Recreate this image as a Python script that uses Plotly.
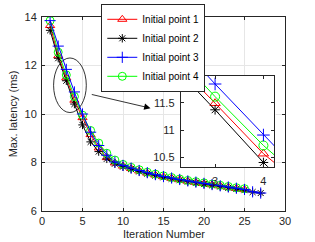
import plotly.graph_objects as go

# ---- data ----
x_red = list(range(1, 26))
y_red = [13.65, 12.40, 11.49, 10.57, 9.85, 9.15, 8.60, 8.20, 7.98, 7.85, 7.75, 7.65, 7.56,
         7.48, 7.41, 7.35, 7.29, 7.23, 7.18, 7.13, 7.08, 7.03, 6.98, 6.93, 6.88]
x_black = list(range(1, 28))
y_black = [13.45, 12.30, 11.37, 10.41, 9.55, 8.85, 8.45, 8.15, 7.95, 7.83, 7.73, 7.63, 7.54,
           7.46, 7.39, 7.33, 7.27, 7.21, 7.16, 7.11, 7.06, 7.01, 6.96, 6.91, 6.86, 6.78, 6.74]
x_blue = list(range(1, 28))
y_blue = [13.85, 12.80, 11.84, 10.91, 10.00, 9.25, 8.70, 8.30, 8.02, 7.88, 7.77, 7.67, 7.58,
          7.50, 7.42, 7.36, 7.30, 7.24, 7.19, 7.14, 7.09, 7.04, 6.99, 6.94, 6.89, 6.79, 6.74]
x_green = list(range(1, 26))
y_green = [13.85, 12.55, 11.61, 10.72, 9.95, 9.32, 8.80, 8.38, 8.10, 7.92, 7.80, 7.70, 7.60,
           7.52, 7.45, 7.38, 7.32, 7.26, 7.21, 7.16, 7.11, 7.06, 7.01, 6.96, 6.92]
names = ["Initial point 1", "Initial point 2", "Initial point 3", "Initial point 4"]
x_ticks = [0, 5, 10, 15, 20, 25, 30]
y_ticks = [6, 8, 10, 12, 14]
inset_x_ticks = [3, 4]
inset_y_ticks = [10.5, 11, 11.5]

series = [
    (x_red, y_red, "#ff0000", "triangle-up-open", 8),
    (x_black, y_black, "#000000", "asterisk-open", 7),
    (x_green, y_green, "#00ff00", "circle-open", 8),
    (x_blue, y_blue, "#0000ff", "cross-thin-open", 8),
]
legend_order = {"#ff0000": 0, "#000000": 1, "#0000ff": 2, "#00ff00": 3}

FONT = "Liberation Sans, Arial, sans-serif"
AX = "#262626"

fig = go.Figure()
for xs, ys, col, sym, sz in series:
    i = legend_order[col]
    fig.add_trace(go.Scatter(
        x=xs, y=ys, mode="lines+markers", name=names[i], legendrank=i + 1,
        line=dict(color=col, width=1),
        marker=dict(symbol=sym, size=sz, color=col, line=dict(color=col, width=1)),
        xaxis="x", yaxis="y"))
# inset copies
for xs, ys, col, sym, sz in series:
    fig.add_trace(go.Scatter(
        x=xs, y=ys, mode="lines+markers", showlegend=False,
        line=dict(color=col, width=1),
        marker=dict(symbol=sym, size=sz + 1, color=col, line=dict(color=col, width=1)),
        xaxis="x2", yaxis="y2"))

axis_common = dict(showline=True, mirror="allticks", linecolor=AX, linewidth=1,
                   ticks="inside", ticklen=3, tickcolor=AX, zeroline=False, automargin=False,
                   tickfont=dict(family=FONT, size=11, color=AX))

fig.update_layout(
    width=315, height=242,
    margin=dict(l=42, r=30, t=17, b=31, autoexpand=False),
    paper_bgcolor="white", plot_bgcolor="white",
    font=dict(family=FONT, size=11, color=AX),
    xaxis=dict(range=[0, 30], tickvals=x_ticks, showgrid=True, gridcolor="#e6e6e6",
               domain=[0, 1], anchor="y", ticklabelstandoff=0, **axis_common),
    yaxis=dict(range=[6, 14], tickvals=y_ticks, showgrid=True, gridcolor="#e6e6e6",
               domain=[0, 1], anchor="x", ticklabelstandoff=2, **axis_common),
    xaxis2=dict(range=[2.29, 4.22], tickvals=inset_x_ticks, showgrid=False,
                domain=[0.571, 0.955], anchor="y2", ticklabelstandoff=4,
                **axis_common),
    yaxis2=dict(range=[10.33, 11.99], tickvals=inset_y_ticks, ticktext=["10.5", "11", "11.5"],
                showgrid=False, domain=[0.2275, 0.697], anchor="x2", ticklabelstandoff=3,
                **axis_common),
    legend=dict(x=0.244, y=1.068, xanchor="left", yanchor="top",
                bgcolor="white", bordercolor=AX, borderwidth=1,
                font=dict(family=FONT, size=10, color="#000000"),
                tracegroupgap=0, itemwidth=30),
    showlegend=True,
)

# axis titles
fig.add_annotation(text="Iteration Number", xref="paper", yref="paper", x=0.5, y=-0.118,
                   xanchor="center", yanchor="middle", showarrow=False,
                   font=dict(family=FONT, size=11, color=AX))
fig.add_annotation(text="Max. latency (ms)", xref="paper", yref="paper", x=-0.118, y=0.5,
                   xanchor="center", yanchor="middle", showarrow=False, textangle=-90,
                   font=dict(family=FONT, size=11, color=AX))

# white background of inset (covers main grid, below traces)
fig.add_shape(type="rect", xref="x", yref="y", layer="between",
              x0=17.15, x1=28.85, y0=7.84, y1=11.56,
              fillcolor="white", line=dict(width=0))
# ellipse around points 3-4
fig.add_shape(type="circle", xref="x", yref="y",
              x0=1.43, x1=5.47, y0=10.06, y1=12.31,
              line=dict(color="#000000", width=0.8))
# arrow toward inset
fig.add_annotation(x=13.4, y=10.24, ax=5.96, ay=10.82, xref="x", yref="y",
                   axref="x", ayref="y", text="", showarrow=True,
                   arrowhead=2, arrowsize=1.6, arrowwidth=0.8, arrowcolor="#000000")

fig.write_html("out.html", config={"displayModeBar": False},
               post_script="document.body.style.margin='0';document.body.style.overflow='hidden';")
